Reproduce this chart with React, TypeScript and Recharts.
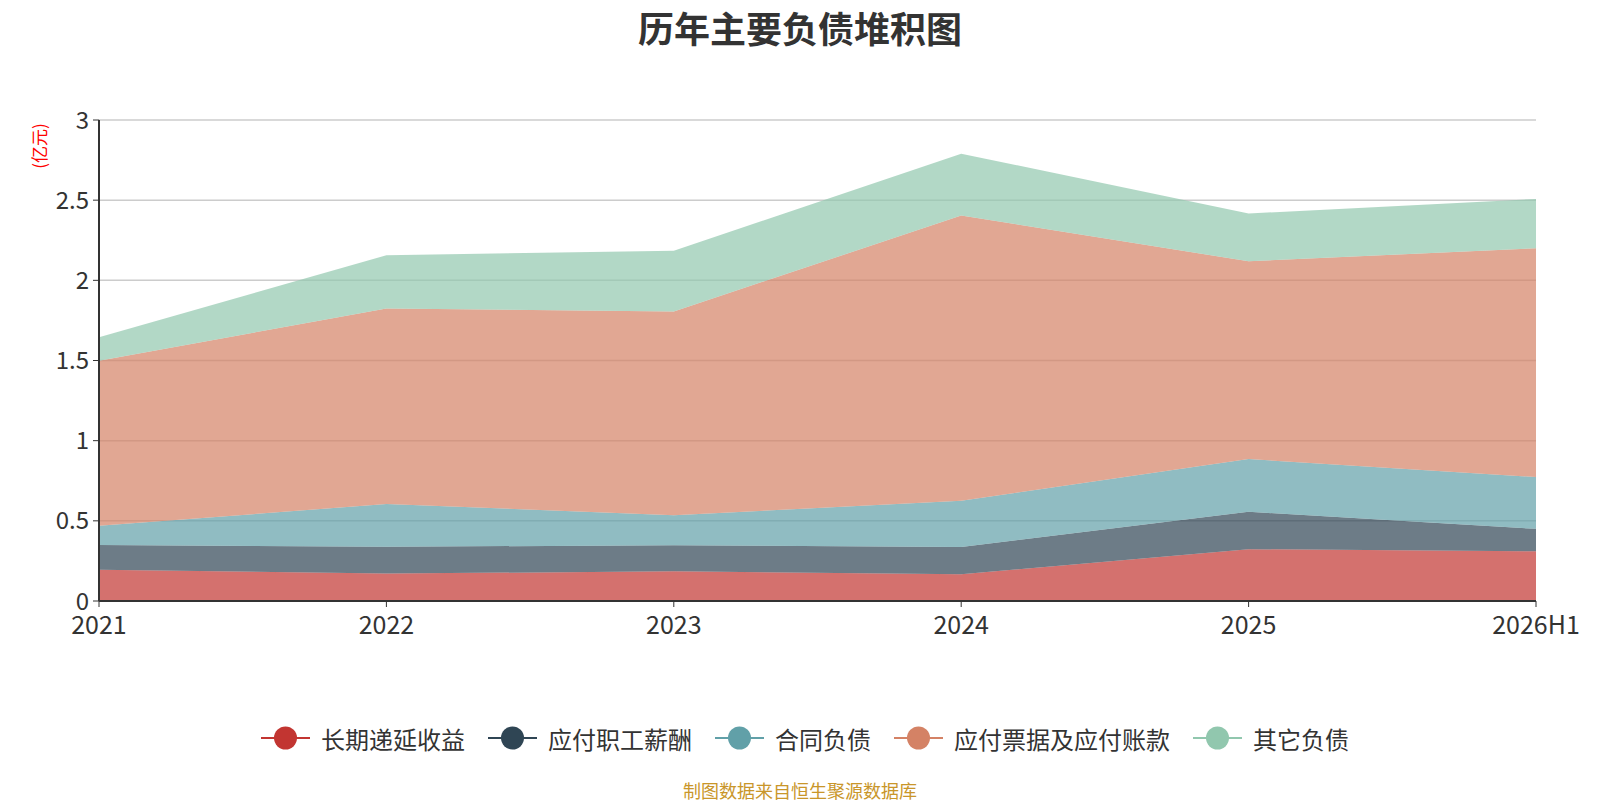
import { AreaChart, Area, XAxis, YAxis, CartesianGrid } from "recharts";

const years = ["2021", "2022", "2023", "2024", "2025", "2026H1"];
const deferredIncome = [0.195, 0.171, 0.185, 0.167, 0.323, 0.31];
const payroll = [0.154, 0.167, 0.163, 0.17, 0.233, 0.14];
const contractLiab = [0.12, 0.267, 0.187, 0.288, 0.329, 0.323];
const payables = [1.03, 1.219, 1.271, 1.779, 1.234, 1.427];
const otherLiab = [0.146, 0.332, 0.379, 0.386, 0.298, 0.308];
const yTicks = [0, 0.5, 1, 1.5, 2, 2.5, 3];

const series = [
  { key: "deferred", name: "长期递延收益", color: "#c23531", values: deferredIncome },
  { key: "payroll", name: "应付职工薪酬", color: "#2f4554", values: payroll },
  { key: "contract", name: "合同负债", color: "#61a0a8", values: contractLiab },
  { key: "payables", name: "应付票据及应付账款", color: "#d48265", values: payables },
  { key: "other", name: "其它负债", color: "#91c7ae", values: otherLiab },
];

const data = years.map((year, i) => {
  const row: Record<string, string | number> = { year };
  series.forEach((s) => {
    row[s.key] = s.values[i];
  });
  return row;
});

const font = '"Microsoft YaHei", "Noto Sans CJK SC", "Open Sans", sans-serif';

function LegendRow() {
  return (
    <div
      style={{
        position: "absolute",
        top: 720,
        left: 0,
        width: 1610,
        display: "flex",
        justifyContent: "center",
        gap: 23,
        fontFamily: font,
        fontSize: 24,
        color: "#333",
      }}
    >
      {series.map((s) => (
        <div key={s.key} style={{ display: "flex", alignItems: "center", gap: 11 }}>
          <svg width={49} height={36}>
            <line x1={0} y1={18} x2={49} y2={18} stroke={s.color} strokeWidth={2} />
            <circle cx={24.5} cy={18} r={11.5} fill={s.color} />
          </svg>
          <span>{s.name}</span>
        </div>
      ))}
    </div>
  );
}

export default function App() {
  return (
    <div style={{ position: "absolute", left: 0, top: 0, width: 1600, height: 800, background: "#fff", fontFamily: font }}>
      <div
        style={{
          position: "absolute",
          top: 1,
          left: 0,
          width: 1600,
          textAlign: "center",
          fontSize: 36,
          fontWeight: "bold",
          color: "#333",
        }}
      >
        历年主要负债堆积图
      </div>
      <div
        style={{
          position: "absolute",
          left: 38,
          top: 146,
          transform: "translate(-50%, -50%) rotate(-90deg)",
          color: "#ff0000",
          fontSize: 17,
          whiteSpace: "nowrap",
        }}
      >
        (亿元)
      </div>
      <AreaChart
        width={1600}
        height={800}
        data={data}
        margin={{ top: 120, right: 64, left: 39, bottom: 169 }}
      >
        <CartesianGrid vertical={false} stroke="#ccc" strokeWidth={1.5} />
        <XAxis
          dataKey="year"
          height={30}
          tick={{ fill: "#333", fontSize: 25, fontFamily: font }}
          tickLine={{ stroke: "#333" }}
          tickSize={6}
          tickMargin={9}
          axisLine={{ stroke: "#333", strokeWidth: 2 }}
          interval={0}
        />
        <YAxis
          width={60}
          domain={[0, 3]}
          ticks={yTicks}
          tick={{ fill: "#333", fontSize: 24, fontFamily: font }}
          tickLine={{ stroke: "#333" }}
          tickSize={6}
          tickMargin={4}
          axisLine={{ stroke: "#333", strokeWidth: 2 }}
          allowDecimals
        />
        {series.map((s) => (
          <Area
            key={s.key}
            type="linear"
            dataKey={s.key}
            name={s.name}
            stackId="1"
            stroke="none"
            fill={s.color}
            fillOpacity={0.7}
            dot={false}
            activeDot={false}
            isAnimationActive={false}
          />
        ))}
      </AreaChart>
      <LegendRow />
      <div
        style={{
          position: "absolute",
          top: 777,
          left: 0,
          width: 1600,
          textAlign: "center",
          fontSize: 18,
          color: "#c9962a",
        }}
      >
        制图数据来自恒生聚源数据库
      </div>
    </div>
  );
}
